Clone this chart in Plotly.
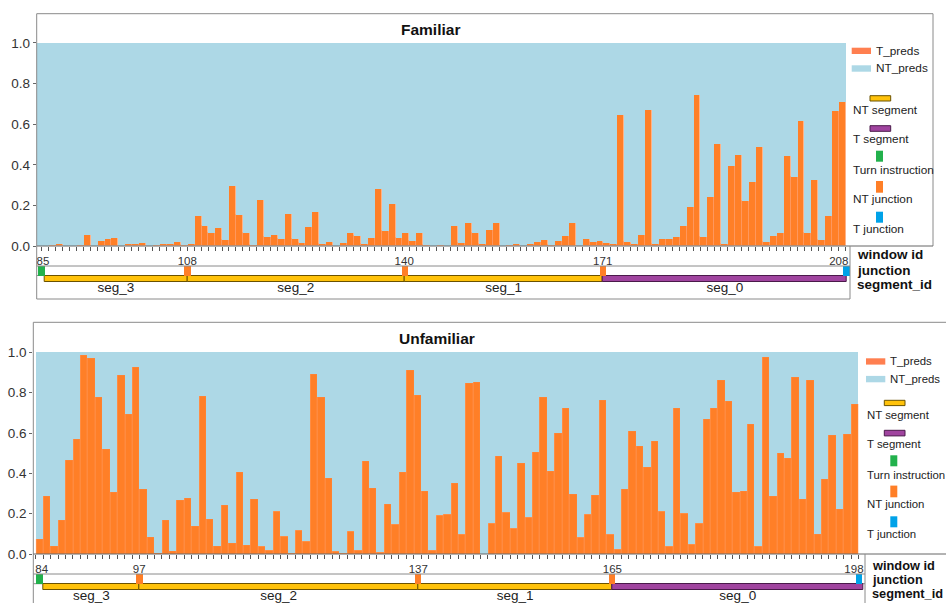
import plotly.graph_objects as go

# ---------------- data ----------------
top_title = "Familiar"
top_T_preds = [0.0, 0.0, 0.005, 0.01, 0.0, 0.002, 0.008, 0.055, 0.0, 0.025,
               0.036, 0.04, 0.002, 0.012, 0.012, 0.014, 0.002, 0.008, 0.012, 0.01,
               0.02, 0.007, 0.01, 0.15, 0.10, 0.066, 0.09, 0.03, 0.297, 0.153,
               0.066, 0.008, 0.227, 0.046, 0.054, 0.036, 0.16, 0.038, 0.016, 0.094,
               0.17, 0.013, 0.02, 0.003, 0.015, 0.067, 0.05, 0.01, 0.041, 0.28,
               0.074, 0.21, 0.041, 0.067, 0.025, 0.067, 0.008, 0.003, 0.008, 0.0,
               0.10, 0.018, 0.117, 0.066, 0.011, 0.079, 0.113, 0.003, 0.008, 0.011,
               0.0, 0.01, 0.02, 0.03, 0.006, 0.025, 0.05, 0.113, 0.002, 0.034,
               0.021, 0.025, 0.015, 0.011, 0.649, 0.02, 0.011, 0.056, 0.673, 0.011,
               0.038, 0.034, 0.048, 0.10, 0.195, 0.745, 0.048, 0.241, 0.502, 0.013,
               0.394, 0.448, 0.223, 0.317, 0.488, 0.02, 0.053, 0.066, 0.443, 0.343,
               0.617, 0.066, 0.328, 0.03, 0.149, 0.667, 0.709]
top_tick_idx = [0.67, 21.49, 52.79, 81.43, 115.5]
top_tick_text = ["85", "108", "140", "171", "208"]
top_seg_names = ["seg_3", "seg_2", "seg_1", "seg_0"]
top_seg_start = [0.86, 21.49, 52.8, 81.48]
top_seg_end = [21.49, 52.8, 81.48, 116.64]
top_seg_kind = ["NT", "NT", "NT", "T"]
top_turn_idx = [0.38]
top_ntj_idx = [21.47, 52.83, 81.4]
top_tj_idx = [116.56]

bot_title = "Unfamiliar"
bot_T_preds = [0.073, 0.288, 0.04, 0.169, 0.466, 0.57, 0.987, 0.972, 0.779, 0.519,
               0.307, 0.888, 0.693, 0.926, 0.322, 0.081, 0.003, 0.169, 0.012, 0.268,
               0.278, 0.136, 0.782, 0.174, 0.04, 0.241, 0.051, 0.403, 0.043, 0.271,
               0.04, 0.018, 0.21, 0.086, 0.005, 0.117, 0.061, 0.891, 0.777, 0.375,
               0.012, 0.003, 0.111, 0.02, 0.461, 0.326, 0.008, 0.246, 0.147, 0.407,
               0.912, 0.788, 0.312, 0.02, 0.19, 0.198, 0.35, 0.098, 0.845, 0.853,
               0.0, 0.152, 0.483, 0.207, 0.127, 0.451, 0.183, 0.506, 0.779, 0.412,
               0.6, 0.724, 0.294, 0.083, 0.197, 0.293, 0.764, 0.098, 0.025, 0.322,
               0.61, 0.532, 0.431, 0.56, 0.213, 0.036, 0.724, 0.203, 0.048, 0.152,
               0.669, 0.724, 0.863, 0.759, 0.306, 0.312, 0.643, 0.036, 0.977, 0.284,
               0.499, 0.473, 0.874, 0.269, 0.863, 0.098, 0.37, 0.588, 0.223, 0.593,
               0.744]
bot_tick_idx = [0.28, 13.45, 51.1, 77.3, 109.9]
bot_tick_text = ["84", "97", "137", "165", "198"]
bot_seg_names = ["seg_3", "seg_2", "seg_1", "seg_0"]
bot_seg_start = [0.5, 13.45, 51.1, 77.28]
bot_seg_end = [13.45, 51.1, 77.28, 111.16]
bot_seg_kind = ["NT", "NT", "NT", "T"]
bot_turn_idx = [0.09]
bot_ntj_idx = [13.5, 51.1, 77.3]
bot_tj_idx = [110.6]

y_tick_vals = [0.0, 0.2, 0.4, 0.6, 0.8, 1.0]
legend_preds = ["T_preds", "NT_preds"]
legend_track = ["NT segment", "T segment", "Turn instruction", "NT junction", "T junction"]
row_labels = ["window id", "junction", "segment_id"]

# ---------------- style ----------------
W, H = 946, 603
FONT = "Liberation Sans, Arial, sans-serif"
ORANGE = "#FF7F27"
CORAL = "#FF7F50"
LIGHTBLUE = "#ADD8E6"
GOLD = "#FFC20A"
GOLD_LINE = "#6b5200"
PURPLE = "#A0449F"
PURPLE_LINE = "#4a1a4a"
GREEN = "#22B14C"
BLUE = "#00A2E8"
BORDER = "#8a8a8a"


def X(px):
    return px / W


def Y(py):
    return 1 - py / H


fig = go.Figure()
shapes = []
annotations = []


def hline(x0, x1, y, color=BORDER, layer="above"):
    shapes.append(dict(type="line", xref="paper", yref="paper", x0=X(x0), x1=X(x1),
                       y0=Y(y), y1=Y(y), line=dict(color=color, width=1), layer=layer))


def vline(x, y0, y1, color=BORDER):
    shapes.append(dict(type="line", xref="paper", yref="paper", x0=X(x), x1=X(x),
                       y0=Y(y0), y1=Y(y1), line=dict(color=color, width=1)))


def rect(x0, x1, y0, y1, fill, line=None):
    shapes.append(dict(type="rect", xref="paper", yref="paper", x0=X(x0), x1=X(x1),
                       y0=Y(y1), y1=Y(y0), fillcolor=fill,
                       line=dict(color=line if line else fill, width=1 if line else 0)))


def text(px, py, s, size=11.5, bold=False, anchor="left", color="#222"):
    annotations.append(dict(xref="paper", yref="paper", x=X(px), y=Y(py),
                            text=("<b>%s</b>" % s) if bold else s,
                            showarrow=False, xanchor=anchor, yanchor="middle", borderpad=0,
                            font=dict(family=FONT, size=size, color=color)))


def panel(T, seg_names, seg_start, seg_end, seg_kind,
          turn_idx, ntj_idx, tj_idx, ax_bar, ax_trk, lab_y):
    xb, yb = ax_bar
    xt, yt = ax_trk
    idx = list(range(len(T)))
    fig.add_trace(go.Bar(x=idx, y=T, width=1.0, marker=dict(color=ORANGE,
                         line=dict(color="rgba(250,150,110,0.7)", width=0.4)),
                         xaxis=xb, yaxis=yb, showlegend=False, name="T_preds"))
    fig.add_trace(go.Bar(x=idx, y=[1 - t for t in T], base=T, width=1.0,
                         marker=dict(color=LIGHTBLUE, line=dict(width=0)),
                         xaxis=xb, yaxis=yb, showlegend=False, name="NT_preds"))
    for s, e, k in zip(seg_start, seg_end, seg_kind):
        c, lc = (GOLD, GOLD_LINE) if k == "NT" else (PURPLE, PURPLE_LINE)
        fig.add_trace(go.Bar(orientation="h", y=[0.612], x=[e - s], base=[s], width=0.195,
                             marker=dict(color=c, line=dict(color=lc, width=1)),
                             xaxis=xt, yaxis=yt, showlegend=False))
    for lst, c, w in ((turn_idx, GREEN, 0.95), (ntj_idx, ORANGE, 0.9), (tj_idx, BLUE, 0.9)):
        fig.add_trace(go.Bar(x=lst, y=[0.29] * len(lst), base=[0.71] * len(lst), width=w,
                             marker=dict(color=c, line=dict(width=0)),
                             xaxis=xt, yaxis=yt, showlegend=False))
    fig.add_trace(go.Scatter(x=[(s + e) / 2 for s, e in zip(seg_start, seg_end)],
                             y=[lab_y] * len(seg_names), mode="text", text=seg_names,
                             textfont=dict(family=FONT, size=13.5, color="#222"),
                             xaxis=xt, yaxis=yt, showlegend=False, cliponaxis=False))
    return [i - 0.5 for i in range(len(T) + 1)]


b_top = panel(top_T_preds, top_seg_names, top_seg_start, top_seg_end,
              top_seg_kind, top_turn_idx, top_ntj_idx, top_tj_idx, ("x", "y"), ("x2", "y2"), 0.303)
b_bot = panel(bot_T_preds, bot_seg_names, bot_seg_start, bot_seg_end,
              bot_seg_kind, bot_turn_idx, bot_ntj_idx, bot_tj_idx, ("x3", "y3"), ("x4", "y4"), 0.32)


def xbar(domain, rng, tv, tt, bounds, anchor):
    return dict(domain=domain, range=rng, anchor=anchor, automargin=False, showgrid=False,
                zeroline=False, showline=False, tickmode="array", tickvals=tv, ticktext=tt,
                ticks="outside", ticklen=4, tickcolor="rgba(0,0,0,0)",
                tickfont=dict(family=FONT, size=11.5, color="#333"),
                minor=dict(tickvals=bounds, ticks="outside", ticklen=4, tickcolor="#555",
                           tickwidth=1, showgrid=False))


def ybar(domain, rng, anchor):
    return dict(domain=domain, range=rng, anchor=anchor, automargin=False, showgrid=False,
                zeroline=False, showline=False, tickmode="array", tickvals=y_tick_vals,
                ticktext=["%.1f" % v for v in y_tick_vals], ticks="outside", ticklen=3,
                tickcolor="#666", tickfont=dict(family=FONT, size=13.5, color="#333"))


def hidden(domain, rng, anchor):
    return dict(domain=domain, range=rng, anchor=anchor, visible=False, automargin=False,
                fixedrange=True)


layout = dict(
    width=W, height=H, margin=dict(l=0, r=0, t=0, b=0, pad=0, autoexpand=False),
    paper_bgcolor="white", plot_bgcolor="white", barmode="overlay", bargap=0,
    showlegend=False,
    xaxis=xbar([X(36.7), X(846)], [-0.24, 116.54], top_tick_idx, top_tick_text, b_top, "y"),
    yaxis=ybar([Y(246), Y(13.7)], [0, 1.144], "x"),
    xaxis2=hidden([X(36.7), X(850)], [-0.24, 117.12], "y2"),
    yaxis2=hidden([Y(299), Y(266)], [0, 1], "x2"),
    xaxis3=xbar([X(33.3), X(859.3)], [-0.85, 110.62], bot_tick_idx, bot_tick_text, b_bot, "y3"),
    yaxis3=ybar([Y(554), Y(322.3)], [0, 1.149], "x3"),
    xaxis4=hidden([X(33.3), X(865)], [-0.85, 111.39], "y4"),
    yaxis4=hidden([0, Y(574)], [0.121, 1], "x4"),
)

# ---- frames / borders ----
hline(36.7, 933, 13.7)
vline(933, 13.7, 246)
hline(36.7, 933, 246, color="#666")
vline(36.7, 13.7, 299)
hline(36.7, 850, 266)
hline(36.7, 850, 299)
vline(850, 246, 299)
hline(36.7, 850, 275.5, layer="below")
hline(33.3, 946, 322.3)
vline(33.3, 322.3, 603)
hline(33.3, 946, 554, color="#666")
hline(33.3, 865, 574)
vline(865, 554, 603)
hline(33.3, 865, 583.7, layer="below")

text(430, 29, top_title, size=15.5, bold=True, anchor="center", color="#111")
text(436.7, 338.3, bot_title, size=15.5, bold=True, anchor="center", color="#111")

for (x0, ys, sz) in ((856, (255, 270, 284.5), 13.5), (870.5, (565, 579.3, 593.5), 12.8)):
    for lab, yy in zip(row_labels, ys):
        text(x0, yy, lab, size=sz, bold=True, color="#111")


def legend(x0, yp, yg, sz):
    rect(x0, x0 + 19.3, yp, yp + 6.3, CORAL)
    rect(x0, x0 + 19.3, yp + 17.6, yp + 24, LIGHTBLUE)
    text(x0 + 23, yp + 3.1, legend_preds[0], size=sz)
    text(x0 + 23, yp + 20.8, legend_preds[1], size=sz)
    rect(x0 + 18.3, x0 + 39, yg, yg + 5.3, GOLD, GOLD_LINE)
    text(x0, yg + 14.3, legend_track[0], size=sz)
    rect(x0 + 18.3, x0 + 39, yg + 30, yg + 35.6, PURPLE, PURPLE_LINE)
    text(x0, yg + 43.3, legend_track[1], size=sz)
    rect(x0 + 24.3, x0 + 31.3, yg + 55, yg + 66, GREEN)
    text(x0, yg + 74.6, legend_track[2], size=sz)
    rect(x0 + 24.3, x0 + 31.3, yg + 85.3, yg + 97, ORANGE)
    text(x0, yg + 103.6, legend_track[3], size=sz)
    rect(x0 + 24.3, x0 + 31.3, yg + 116, yg + 127, BLUE)
    text(x0, yg + 133.6, legend_track[4], size=sz)


legend(851.7, 47.7, 95.7, 11.8)
legend(866, 358.3, 400.3, 11.4)

layout["shapes"] = shapes
layout["annotations"] = annotations
fig.update_layout(**layout)
fig.write_html("out.html", config={"displayModeBar": False},
               post_script="document.body.style.margin='0px';document.body.style.padding='0px';"
                           "document.documentElement.style.overflow='hidden';")
